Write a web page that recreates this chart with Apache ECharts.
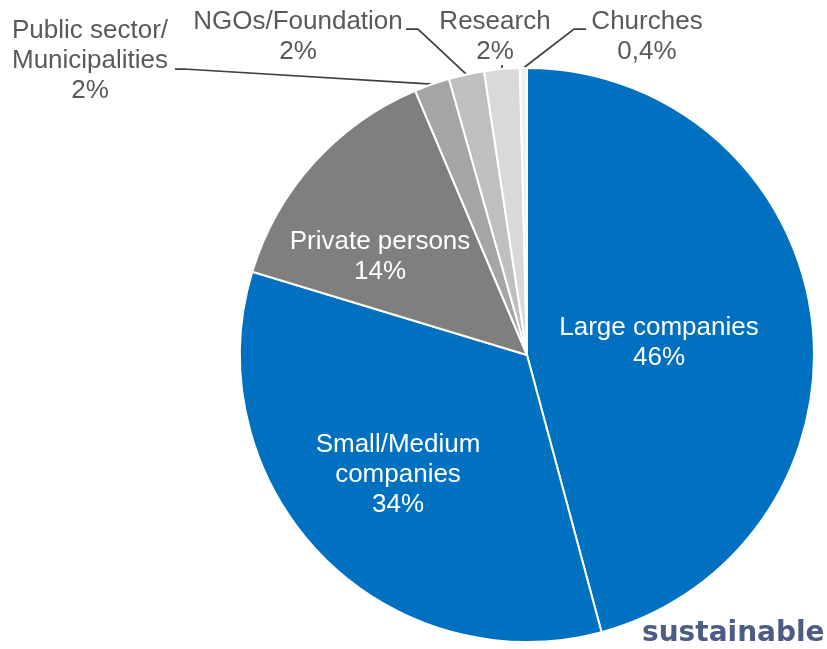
<!DOCTYPE html>
<html>
<head>
<meta charset="utf-8">
<script src="https://cdn.jsdelivr.net/npm/echarts@6/dist/echarts.min.js"></script>
<style>
  html, body { margin: 0; padding: 0; background: #ffffff; }
  #chart { width: 827px; height: 649px; }
</style>
</head>
<body>
<div id="chart"></div>
<script>
// Customer segments and their shares (%)
const categories = [
  'Large companies',
  'Small/Medium\ncompanies',
  'Private persons',
  'Public sector/\nMunicipalities',
  'NGOs/Foundation',
  'Research',
  'Churches'
];
const shares = [46, 34, 14, 2, 2, 2, 0.4];
const sliceColors = ['#0070C0', '#0070C0', '#7F7F7F', '#A5A5A5', '#BFBFBF', '#D9D9D9', '#F0F0F0'];
const insideSlices = [true, true, true, false, false, false, false];

// Pie geometry
const CX = 527, CY = 355, R = 287;
const total = shares.reduce((a, b) => a + b, 0);

// Mid angle of a slice, degrees clockwise from 12 o'clock
function midAngle(i) {
  let before = 0;
  for (let k = 0; k < i; k++) before += shares[k];
  return (before + shares[i] / 2) / total * 360;
}
function edgePoint(i) {
  const a = midAngle(i) * Math.PI / 180;
  return [CX + R * Math.sin(a), CY - R * Math.cos(a)];
}

// Label placement (text block centre) and leader-line elbows
const labelPlacement = {
  0: { x: 659, y: 343 },
  1: { x: 398, y: 475 },
  2: { x: 380, y: 257 },
  3: { x: 90, y: 61, elbow: [[175, 69], [184, 69]] },
  4: { x: 298, y: 37, elbow: [[406, 29], [418, 29]] },
  5: { x: 495, y: 37, elbow: [[502, 65]] },
  6: { x: 647, y: 37, elbow: [[586, 29], [574, 29]] }
};

function pctText(v) {
  return String(v).replace('.', ',') + '%';
}

const data = categories.map((name, i) => ({
  name: name,
  value: shares[i],
  itemStyle: { color: sliceColors[i] },
  label: insideSlices[i]
    ? { position: 'inside', color: '#ffffff' }
    : { position: 'outside', color: '#595959' },
  labelLine: { show: !insideSlices[i] }
}));

const chart = echarts.init(document.getElementById('chart'), null, { renderer: 'canvas' });
chart.setOption({
  backgroundColor: '#ffffff',
  animation: false,
  series: [{
    type: 'pie',
    center: [CX, CY],
    radius: [0, R],
    startAngle: 90,
    clockwise: true,
    avoidLabelOverlap: false,
    data: data,
    itemStyle: { borderColor: '#ffffff', borderWidth: 2 },
    label: {
      show: true,
      fontFamily: '"Liberation Sans", Arial, sans-serif',
      fontSize: 26,
      lineHeight: 30,
      align: 'center',
      formatter: p => p.name + '\n' + pctText(p.value)
    },
    labelLine: {
      show: true,
      smooth: false,
      lineStyle: { color: '#404040', width: 1.75 }
    },
    emphasis: { disabled: true },
    labelLayout: function (params) {
      const i = params.dataIndex;
      const pl = labelPlacement[i];
      const out = { x: pl.x, y: pl.y, align: 'center', verticalAlign: 'middle' };
      if (pl.elbow) {
        out.labelLinePoints = [edgePoint(i)].concat(pl.elbow.slice().reverse()).reverse();
      }
      return out;
    }
  }],
  graphic: [{
    type: 'text',
    x: 642,
    y: 634,
    style: {
      text: 'sustainable',
      font: 'bold 28px "DejaVu Sans", Verdana, sans-serif',
      fill: '#4D5C84',
      textVerticalAlign: 'middle'
    }
  }]
});
</script>
</body>
</html>
